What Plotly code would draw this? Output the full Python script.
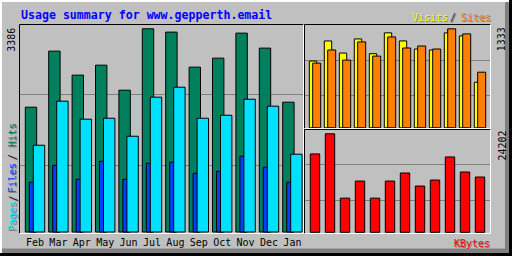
import plotly.graph_objects as go

# ---------------- data ----------------
months = ["Feb", "Mar", "Apr", "May", "Jun", "Jul", "Aug", "Sep", "Oct", "Nov", "Dec", "Jan"]
hits = [2080, 3014, 2614, 2780, 2363, 3386, 3331, 2747, 2897, 3314, 3064, 2163]
files = [1446, 2180, 1880, 1896, 1596, 2247, 2413, 1896, 1946, 2213, 2097, 1296]
pages = [829, 1112, 879, 1179, 879, 1146, 1163, 979, 1012, 1263, 1079, 829]
visits = [899, 1170, 1007, 1197, 998, 1279, 1170, 1061, 1048, 1279, 1238, 614]
sites = [871, 1048, 912, 1157, 966, 1224, 1075, 1102, 1061, 1333, 1265, 749]
kbytes = [19262, 24202, 8397, 12595, 8397, 12595, 14571, 11360, 12842, 18522, 14818, 13583]
title = "Usage summary for www.gepperth.email"

# ---------------- layout helpers ----------------
W, H = 512, 256
BG = "#c0c0c0"
GRID = "#808080"
FONT = "DejaVu Sans Mono"


def fx(px):
    return px / W


def fy(py):
    return 1 - py / H


def yrange(base_py, top_py, top_val, dom_top, dom_bot):
    s = top_val / (base_py - top_py)
    return [(base_py - dom_bot) * s, (base_py - dom_top) * s], s


xs = list(range(len(months)))

# left panel
LP = 23.4  # px per month
L0 = 25.3  # px of first bar
yr1, s1 = yrange(232.0, 29.3, max(hits), 25.5, 233.0)
# right top
RP = 15.0
R0 = 309.3
yr2, s2 = yrange(127.3, 29.3, max(sites), 25.5, 128.0)
# right bottom
yr3, s3 = yrange(232.3, 134.3, max(kbytes), 130.0, 233.0)

fig = go.Figure()
line = dict(color="black", width=1)

fig.add_trace(go.Bar(x=xs, y=hits, offset=0, width=11.4 / LP, marker=dict(color="#00805c", line=line),
                     xaxis="x", yaxis="y", name="Hits"))
fig.add_trace(go.Bar(x=xs, y=pages, offset=4 / LP, width=6 / LP, marker=dict(color="#0040ff", line=line),
                     xaxis="x", yaxis="y", name="Pages"))
fig.add_trace(go.Bar(x=xs, y=files, offset=8 / LP, width=11.4 / LP, marker=dict(color="#00e0ff", line=line),
                     xaxis="x", yaxis="y", name="Files"))
fig.add_trace(go.Bar(x=xs, y=visits, offset=0, width=7.4 / RP, marker=dict(color="#ffff00", line=line),
                     xaxis="x2", yaxis="y2", name="Visits"))
fig.add_trace(go.Bar(x=xs, y=sites, offset=3.4 / RP, width=8 / RP, marker=dict(color="#ff8000", line=line),
                     xaxis="x2", yaxis="y2", name="Sites"))
fig.add_trace(go.Bar(x=xs, y=kbytes, offset=1 / RP, width=9.4 / RP, marker=dict(color="#ff0000", line=line),
                     xaxis="x3", yaxis="y3", name="KBytes"))

common_x = dict(showgrid=False, zeroline=False, showline=False, ticks="", fixedrange=True)
common_y = dict(showgrid=True, gridcolor=GRID, gridwidth=1, zeroline=False, showline=False,
                ticks="", showticklabels=False, fixedrange=True)

fig.update_layout(
    width=W, height=H,
    margin=dict(l=0, r=0, t=0, b=0),
    paper_bgcolor=BG, plot_bgcolor=BG,
    showlegend=False, barmode="overlay",
    font=dict(family=FONT, color="black"),
    xaxis=dict(domain=[fx(20), fx(304)], range=[(20 - L0) / LP, (304 - L0) / LP],
               tickvals=[i + 9.7 / LP for i in xs], ticktext=months, ticklabelstandoff=2,
               tickfont=dict(family=FONT, size=10, color="black"), anchor="y", **common_x),
    yaxis=dict(domain=[fy(233), fy(25)], range=yr1,
               tickvals=[66.7 * s1, 136.7 * s1], anchor="x", **common_y),
    xaxis2=dict(domain=[fx(305), fx(491)], range=[(305 - R0) / RP, (491 - R0) / RP],
                showticklabels=False, anchor="y2", **common_x),
    yaxis2=dict(domain=[fy(128.5), fy(25)], range=yr2,
                tickvals=[32 * s2, 67 * s2], anchor="x2", **common_y),
    xaxis3=dict(domain=[fx(305), fx(491)], range=[(305 - R0) / RP, (491 - R0) / RP],
                showticklabels=False, anchor="y3", **common_x),
    yaxis3=dict(domain=[fy(233), fy(129.5)], range=yr3,
                tickvals=[32 * s3, 67 * s3], anchor="x3", **common_y),
)

shapes = []


def hline(x0, x1, y, color, w=1):
    shapes.append(dict(type="line", xref="paper", yref="paper", x0=fx(x0), x1=fx(x1),
                       y0=fy(y), y1=fy(y), line=dict(color=color, width=w), layer="above"))


def vline(x, y0, y1, color, w=1):
    shapes.append(dict(type="line", xref="paper", yref="paper", x0=fx(x), x1=fx(x),
                       y0=fy(y0), y1=fy(y1), line=dict(color=color, width=w), layer="above"))


def rect(x0, y0, x1, y1, color):
    shapes.append(dict(type="rect", xref="paper", yref="paper", x0=fx(x0), x1=fx(x1),
                       y0=fy(y1), y1=fy(y0), fillcolor=color, line=dict(width=0), layer="above"))


# sunken panel borders
for (x0, y0, x1, y1) in [(19.5, 24.5, 303.5, 233.5), (304.5, 24.5, 490.5, 128.5), (304.5, 129.5, 490.5, 233.5)]:
    hline(x0, x1, y0, "black")
    vline(x0, y0, y1, "black")
    hline(x0, x1, y1, "white")
    vline(x1, y0, y1, "white")

# outer raised frame
rect(0, 0, 512, 2, "white")
rect(0, 0, 2, 256, "white")
rect(505, 2, 509, 253, "#808080")
rect(2, 248.5, 509, 253, "#808080")
rect(509, 0, 512, 256, "black")
rect(0, 253, 512, 256, "black")

fig.update_layout(shapes=shapes)

ann = []


def text(t, x, y, color, size=10, xanchor="center", yanchor="middle", angle=0, shadow=False, bold=False):
    s = f"<b>{t}</b>" if bold else t
    if shadow:
        ann.append(dict(text=s, x=fx(x), y=fy(y), xref="paper", yref="paper", showarrow=False,
                        xanchor=xanchor, yanchor=yanchor, textangle=angle, xshift=1, yshift=-1,
                        font=dict(family=FONT, size=size, color="#808080")))
    ann.append(dict(text=s, x=fx(x), y=fy(y), xref="paper", yref="paper", showarrow=False,
                    xanchor=xanchor, yanchor=yanchor, textangle=angle,
                    font=dict(family=FONT, size=size, color=color)))


text(title, 18.5, 15, "#0000ff", size=11.6, xanchor="left", bold=True)
text("Visits", 449.5, 17, "#ffff00", xanchor="right", shadow=True)
text("/", 453, 17, "#202020", shadow=True)
text("Sites", 458.5, 17, "#ff8000", xanchor="left", shadow=True)
text("KBytes", 491.5, 243.5, "#ff0000", xanchor="right", shadow=True)

text(str(max(hits)), 12, 39.7, "black", angle=-90)
text(str(max(sites)), 501.5, 39.7, "black", angle=-90)
text(str(max(kbytes)), 501.5, 146, "black", angle=-90)

text("Pages", 12.5, 216.5, "#00e0ff", size=10, angle=-90, shadow=True)
text("/", 12.5, 199, "#202020", size=10, angle=-90, shadow=True)
text("Files", 12.5, 178.5, "#0040ff", size=10, angle=-90, shadow=True)
text("/", 12.5, 157.5, "#202020", size=10, angle=-90, shadow=True)
text("Hits", 12.5, 135.5, "#00805c", size=10, angle=-90, shadow=True)

fig.update_layout(annotations=ann)

fig.write_html("out.html")
